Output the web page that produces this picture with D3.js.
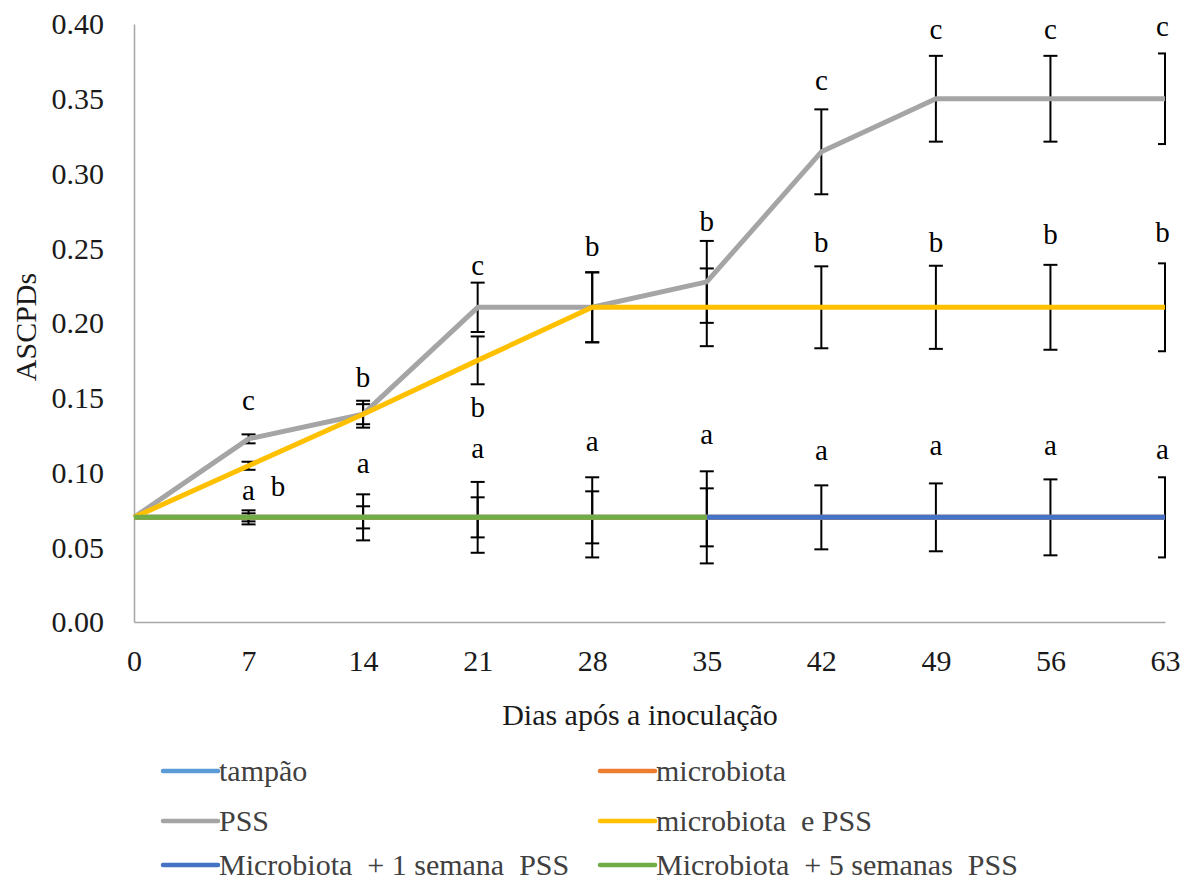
<!DOCTYPE html>
<html>
<head>
<meta charset="utf-8">
<script src="https://cdn.jsdelivr.net/npm/d3@7"></script>
<style>
  body { margin: 0; background: #fff; }
</style>
</head>
<body>
<svg id="chart"></svg>
<script>
const FONT = 'Liberation Serif, Times New Roman, DejaVu Serif, serif';

// Days after inoculation
const days = [0, 7, 14, 21, 28, 35, 42, 49, 56, 63];
const yTicks = [0, 0.05, 0.10, 0.15, 0.20, 0.25, 0.30, 0.35, 0.40];

// Series values (ASCPDs)
const tampao      = [0.07, 0.07, 0.07, 0.07, 0.07, 0.07, 0.07, 0.07, 0.07, 0.07];
const microbiota  = [0.07, 0.07, 0.07, 0.07, 0.07, 0.07, 0.07, 0.07, 0.07, 0.07];
const pss         = [0.07, 0.1225, 0.139, 0.2105, 0.2105, 0.2275, 0.3145, 0.35, 0.35, 0.35];
const microPss    = [0.07, 0.1045, 0.139, 0.175, 0.2105, 0.2105, 0.2105, 0.2105, 0.2105, 0.2105];
const semana1     = [null, null, null, null, null, 0.07, 0.07, 0.07, 0.07, 0.07];
const semanas5    = [0.07, 0.07, 0.07, 0.07, 0.07, 0.07, null, null, null, null];

// Error bar half-widths
const tampaoErr   = [null, 0.0027, 0.0074, 0.0134, 0.0174, null, null, null, null, null];
const pssErr      = [null, 0.003, 0.009, 0.0165, 0.0234, 0.0274, 0.0284, 0.0287, 0.0287, 0.0303];
const microPssErr = [null, 0.0027, 0.0067, 0.016, 0.0234, 0.026, 0.0274, 0.0278, 0.0284, 0.0294];
const semana1Err  = [null, null, null, null, null, 0.0194, 0.0214, 0.0227, 0.0254, 0.0268];
const semanas5Err = [null, 0.0047, 0.0154, 0.0237, 0.0268, 0.0308, null, null, null, null];

// Significance letters (day, value where the letter sits)
const pssLetters      = ['c', 'b', 'c', 'b', 'b', 'c', 'c', 'c', 'c'];
const pssLetterDays   = [7, 14, 21, 28, 35, 42, 49, 56, 62.85];
const pssLetterY      = [0.1418, 0.157, 0.232, 0.245, 0.2615, 0.356, 0.390, 0.390, 0.392];
const mpLetters       = ['b', 'b', 'b', 'b', 'b', 'b'];
const mpLetterDays    = [8.8, 21, 42, 49, 56, 62.85];
const mpLetterY       = [0.0846, 0.137, 0.2475, 0.2475, 0.253, 0.254];
const baseLetters     = ['a', 'a', 'a', 'a', 'a', 'a', 'a', 'a', 'a'];
const baseLetterDays  = [7, 14, 21, 28, 35, 42, 49, 56, 62.85];
const baseLetterY     = [0.0816, 0.0997, 0.110, 0.1144, 0.1189, 0.1086, 0.1115, 0.1115, 0.1092];

const seriesNames  = ['tampão', 'microbiota', 'PSS', 'microbiota  e PSS',
                      'Microbiota  + 1 semana  PSS', 'Microbiota  + 5 semanas  PSS'];
const seriesColors = ['#5B9BD5', '#ED7D31', '#A5A5A5', '#FFC000', '#4472C4', '#70AD47'];

const width = 1188, height = 886;
const svg = d3.select('#chart').attr('width', width).attr('height', height)
  .attr('font-family', FONT);
svg.append('rect').attr('width', width).attr('height', height).attr('fill', '#fff');

const x = d3.scaleLinear().domain([0, 63]).range([134, 1165]);
const y = d3.scaleLinear().domain([0, 0.4]).range([622, 24]);

// clip like the chart plot area (last error bar is cut in half)
svg.append('clipPath').attr('id', 'plotclip')
  .append('rect').attr('x', 120).attr('y', 0).attr('width', 1166 - 120).attr('height', 640);

// Axes
const yAxis = svg.append('g').attr('transform', `translate(${x(0)},0)`)
  .call(d3.axisLeft(y).tickValues(yTicks).tickSize(0).tickPadding(30).tickFormat(d3.format('.2f')));
const xAxis = svg.append('g').attr('transform', `translate(0,${y(0)})`)
  .call(d3.axisBottom(x).tickValues(days).tickSize(0).tickPadding(28).tickFormat(d3.format('d')));
[yAxis, xAxis].forEach(g => {
  g.attr('font-family', FONT).attr('font-size', 30);
  g.select('.domain').attr('stroke', '#a6a6a6').attr('stroke-width', 1.5);
  g.selectAll('text').attr('fill', '#1a1a1a');
});
yAxis.selectAll('text').attr('x', -30).attr('dy', '0.33em');
xAxis.selectAll('text').attr('dy', '0.71em');

// Axis titles
svg.append('text')
  .attr('transform', `translate(36,327) rotate(-90)`)
  .attr('text-anchor', 'middle').attr('font-size', 30).attr('fill', '#1a1a1a')
  .text('ASCPDs');
svg.append('text')
  .attr('x', 640).attr('y', 725)
  .attr('text-anchor', 'middle').attr('font-size', 30).attr('fill', '#1a1a1a')
  .text('Dias após a inoculação');

const plot = svg.append('g').attr('clip-path', 'url(#plotclip)');

// Error bars
const errSets = [
  [tampao, tampaoErr], [pss, pssErr], [microPss, microPssErr],
  [semana1, semana1Err], [semanas5, semanas5Err]
];
const bars = [];
errSets.forEach(([vals, errs]) => {
  days.forEach((d, i) => {
    if (vals[i] != null && errs[i] != null) bars.push({ day: d, v: vals[i], e: errs[i] });
  });
});
const capW = 7;
const eg = plot.append('g').attr('stroke', '#000').attr('stroke-width', 2);
eg.selectAll('.ev').data(bars).join('line').attr('class', 'ev')
  .attr('x1', d => x(d.day)).attr('x2', d => x(d.day))
  .attr('y1', d => y(d.v + d.e)).attr('y2', d => y(d.v - d.e));
eg.selectAll('.ct').data(bars).join('line').attr('class', 'ct')
  .attr('x1', d => x(d.day) - capW).attr('x2', d => x(d.day) + capW)
  .attr('y1', d => y(d.v + d.e)).attr('y2', d => y(d.v + d.e));
eg.selectAll('.cb').data(bars).join('line').attr('class', 'cb')
  .attr('x1', d => x(d.day) - capW).attr('x2', d => x(d.day) + capW)
  .attr('y1', d => y(d.v - d.e)).attr('y2', d => y(d.v - d.e));

// Lines
const allSeries = [tampao, microbiota, pss, microPss, semana1, semanas5];
const line = d3.line()
  .defined(d => d.v != null)
  .x(d => x(d.day)).y(d => y(d.v));
allSeries.forEach((vals, k) => {
  plot.append('path')
    .datum(days.map((d, i) => ({ day: d, v: vals[i] })))
    .attr('d', line)
    .attr('fill', 'none')
    .attr('stroke', seriesColors[k])
    .attr('stroke-width', 5)
    .attr('stroke-linejoin', 'round');
});

// Letters
const letters = [];
pssLetters.forEach((t, i) => letters.push({ t, day: pssLetterDays[i], v: pssLetterY[i] }));
mpLetters.forEach((t, i) => letters.push({ t, day: mpLetterDays[i], v: mpLetterY[i] }));
baseLetters.forEach((t, i) => letters.push({ t, day: baseLetterDays[i], v: baseLetterY[i] }));
svg.selectAll('.letter').data(letters).join('text').attr('class', 'letter')
  .attr('x', d => x(d.day)).attr('y', d => y(d.v))
  .attr('text-anchor', 'middle').attr('font-size', 29).attr('fill', '#000')
  .text(d => d.t);

// Legend (3 rows x 2 columns)
const legendCols = [163, 600];
const legendRows = [771, 821, 865];
const lg = svg.append('g');
seriesNames.forEach((name, i) => {
  const lx = legendCols[i % 2], ly = legendRows[Math.floor(i / 2)];
  lg.append('line')
    .attr('x1', lx).attr('x2', lx + 55).attr('y1', ly).attr('y2', ly)
    .attr('stroke', seriesColors[i]).attr('stroke-width', 4.5).attr('stroke-linecap', 'round');
  lg.append('text')
    .attr('x', lx + 56).attr('y', ly + 10)
    .attr('font-size', 30).attr('fill', '#404040')
    .attr('xml:space', 'preserve')
    .style('white-space', 'pre')
    .text(name);
});
</script>
</body>
</html>
